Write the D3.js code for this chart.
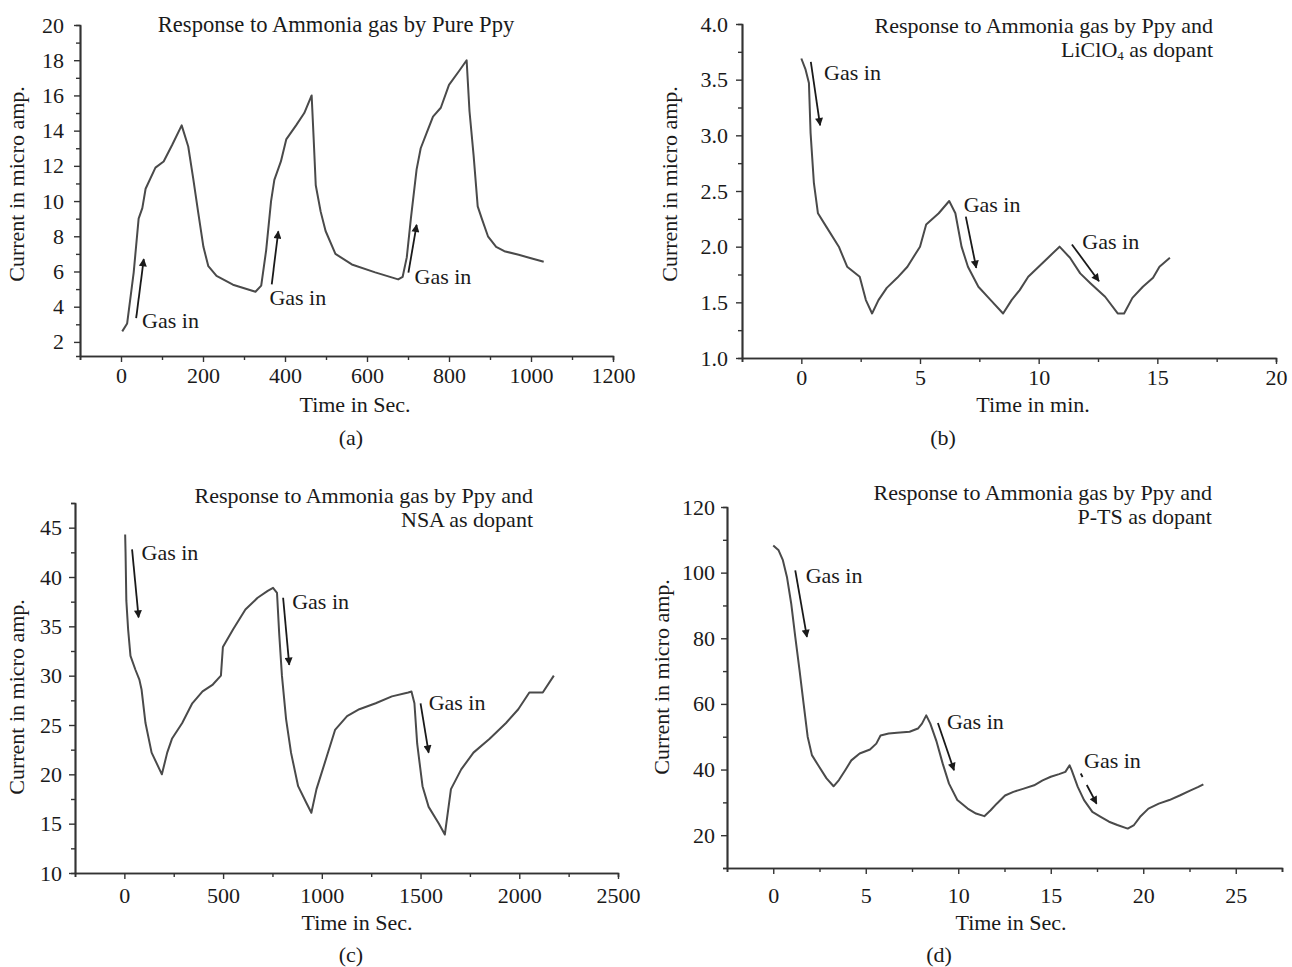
<!DOCTYPE html>
<html>
<head>
<meta charset="utf-8">
<script src="https://cdn.jsdelivr.net/npm/d3@7"></script>
<style>
  body { margin: 0; background: #fff; }
  svg text { font-family: "Liberation Serif", "Times New Roman", serif; fill: #1a1a1a; }
</style>
</head>
<body>
<svg id="chart" width="1292" height="967"></svg>
<script>
// (a) pure Ppy, time in s
const timeA = [3, 15, 31, 43, 52, 60, 84, 104, 125, 148, 164, 176, 188, 201, 213, 233, 273, 328, 342, 354, 366, 374, 390, 403, 427, 447, 465, 470, 475, 487, 499, 523, 563, 620, 676, 687, 697, 707, 721, 731, 746, 761, 780, 800, 825, 843, 850, 860, 870, 880, 895, 915, 935, 970, 1000, 1031];
const currentA = [2.6, 3.05, 5.95, 9.0, 9.6, 10.7, 11.9, 12.25, 13.2, 14.3, 13.1, 11.3, 9.4, 7.4, 6.3, 5.75, 5.25, 4.85, 5.2, 7.2, 10.0, 11.2, 12.25, 13.5, 14.3, 15.0, 16.0, 13.5, 10.9, 9.4, 8.3, 7.0, 6.4, 5.95, 5.55, 5.7, 6.8, 9.0, 11.8, 13.0, 13.9, 14.8, 15.3, 16.6, 17.4, 18.0, 15.1, 12.6, 9.7, 9.0, 8.0, 7.4, 7.15, 6.95, 6.75, 6.55];
// (b) LiClO4 dopant, time in min
const timeB = [0, 0.18, 0.32, 0.39, 0.53, 0.70, 1.05, 1.58, 1.93, 2.46, 2.72, 2.98, 3.25, 3.6, 4.04, 4.47, 5.0, 5.26, 5.79, 6.23, 6.49, 6.75, 7.02, 7.46, 7.98, 8.5, 8.86, 9.2, 9.56, 10.0, 10.44, 10.88, 11.32, 11.75, 12.19, 12.8, 13.33, 13.6, 13.95, 14.39, 14.82, 15.09, 15.53];
const currentB = [3.69, 3.59, 3.47, 3.02, 2.57, 2.30, 2.18, 2.0, 1.82, 1.73, 1.52, 1.40, 1.52, 1.63, 1.72, 1.82, 2.0, 2.2, 2.3, 2.41, 2.3, 2.0, 1.82, 1.64, 1.52, 1.40, 1.52, 1.61, 1.73, 1.82, 1.91, 2.0, 1.9, 1.76, 1.67, 1.55, 1.40, 1.40, 1.54, 1.64, 1.72, 1.82, 1.90];
// (c) NSA dopant, time in s
const timeC = [4, 6, 10, 19, 31, 56, 76, 87, 107, 138, 190, 217, 241, 293, 344, 396, 448, 489, 499, 551, 613, 675, 726, 753, 773, 784, 798, 819, 844, 880, 922, 947, 973, 1025, 1067, 1128, 1190, 1273, 1355, 1438, 1454, 1469, 1483, 1510, 1541, 1593, 1623, 1654, 1706, 1768, 1850, 1933, 1995, 2051, 2119, 2175];
const currentC = [44.3, 42.5, 37.6, 34.7, 32.0, 30.6, 29.6, 28.6, 25.2, 22.2, 20.0, 22.2, 23.6, 25.2, 27.2, 28.4, 29.1, 30.0, 32.9, 34.7, 36.7, 37.9, 38.6, 38.9, 38.4, 34.3, 30.0, 25.6, 22.2, 18.8, 17.1, 16.1, 18.5, 21.8, 24.5, 25.9, 26.6, 27.2, 27.9, 28.3, 28.4, 27.2, 23.1, 18.8, 16.7, 15.0, 13.9, 18.5, 20.5, 22.2, 23.6, 25.2, 26.6, 28.3, 28.3, 30.0];
// (d) P-TS dopant, time in s
const timeD = [0, 0.29, 0.52, 0.74, 0.97, 1.19, 1.42, 1.64, 1.86, 2.09, 2.43, 2.88, 3.26, 3.55, 3.89, 4.22, 4.67, 5.23, 5.57, 5.8, 6.24, 6.69, 7.37, 7.82, 8.04, 8.27, 8.49, 8.83, 9.16, 9.5, 9.95, 10.51, 10.96, 11.41, 11.75, 12.08, 12.53, 12.98, 13.54, 14.1, 14.56, 15.0, 15.45, 15.79, 16.02, 16.13, 16.46, 16.8, 17.25, 17.7, 18.15, 18.6, 19.16, 19.5, 19.83, 20.28, 20.84, 21.41, 21.97, 22.53, 22.98, 23.25];
const currentD = [108.3, 106.8, 103.8, 98.7, 90.6, 80.4, 70.3, 60.1, 50.0, 44.4, 41.3, 37.3, 34.9, 36.8, 39.8, 42.8, 44.9, 46.1, 47.9, 50.4, 51.0, 51.2, 51.5, 52.5, 54.0, 56.5, 54.0, 48.5, 41.8, 35.7, 30.7, 28.1, 26.6, 25.8, 27.6, 29.6, 32.1, 33.2, 34.2, 35.2, 36.7, 37.8, 38.6, 39.3, 41.3, 39.8, 34.7, 30.7, 27.1, 25.6, 24.1, 23.1, 22.0, 23.1, 25.6, 28.1, 29.6, 30.7, 32.1, 33.6, 34.7, 35.5];

// tick values
const xTicksA = [0, 200, 400, 600, 800, 1000, 1200];
const xMinorA = [-100, 100, 300, 500, 700, 900, 1100];
const yTicksA = [2, 4, 6, 8, 10, 12, 14, 16, 18, 20];
const yMinorA = [3, 5, 7, 9, 11, 13, 15, 17, 19];
const xTicksB = [0, 5, 10, 15, 20];
const xMinorB = [-2.5, 2.5, 7.5, 12.5, 17.5];
const yTicksB = [1.0, 1.5, 2.0, 2.5, 3.0, 3.5, 4.0];
const yMinorB = [1.25, 1.75, 2.25, 2.75, 3.25, 3.75];
const xTicksC = [0, 500, 1000, 1500, 2000, 2500];
const xMinorC = [-250, 250, 750, 1250, 1750, 2250];
const yTicksC = [10, 15, 20, 25, 30, 35, 40, 45];
const yMinorC = [12.5, 17.5, 22.5, 27.5, 32.5, 37.5, 42.5, 47.5];
const xTicksD = [0, 5, 10, 15, 20, 25];
const xMinorD = [-2.5, 2.5, 7.5, 12.5, 17.5, 22.5, 27.5];
const yTicksD = [20, 40, 60, 80, 100, 120];
const yMinorD = [10, 30, 50, 70, 90, 110];

// "Gas in" arrows [t0, v0, t1, v1] and label anchors [t, v]
const gasArrowsA = [[37, 3.35, 55.5, 6.7], [367.6, 5.27, 383.7, 8.28], [701, 5.93, 721, 8.65]];
const gasLabelsA = [[51.5, 2.8], [362, 4.12], [716, 5.27]];
const gasArrowsB = [[0.40, 3.66, 0.79, 3.09], [6.93, 2.27, 7.37, 1.81], [11.4, 2.02, 12.54, 1.69]];
const gasLabelsB = [[0.96, 3.50], [6.84, 2.31], [11.84, 1.98]];
const gasArrowsC = [[39, 42.8, 72, 35.9], [804, 37.9, 835, 31.1], [1500, 27.2, 1541, 22.2]];
const gasLabelsC = [[87, 41.7], [850, 36.8], [1541, 26.5]];
const gasArrowsD = [[1.19, 100.7, 1.82, 80.4], [8.9, 54.2, 9.77, 39.8], [16.62, 38.8, 17.48, 29.6]];
const gasLabelsD = [[1.75, 96.95], [9.39, 52.3], [16.8, 40.5]];

const svg = d3.select("#chart");
const FS = 22;

svg.append("defs").append("marker")
  .attr("id", "head")
  .attr("viewBox", "0 0 10 10")
  .attr("refX", 9).attr("refY", 5)
  .attr("markerUnits", "userSpaceOnUse")
  .attr("markerWidth", 10).attr("markerHeight", 8)
  .attr("orient", "auto")
  .append("path")
  .attr("d", "M0,0 L10,5 L0,10 Z")
  .attr("fill", "#1a1a1a");

function drawPanel(p) {
  const x = d3.scaleLinear().domain(p.xDomain).range([p.left, p.right]);
  const y = d3.scaleLinear().domain(p.yDomain).range([p.bottom, p.top]);
  const g = svg.append("g");

  // minor ticks first
  g.append("g").attr("transform", `translate(0,${p.bottom})`)
    .call(d3.axisBottom(x).tickValues(p.xMinor).tickSize(4).tickFormat(""));
  g.append("g").attr("transform", `translate(${p.left},0)`)
    .call(d3.axisLeft(y).tickValues(p.yMinor).tickSize(4).tickFormat(""));

  g.append("g").attr("transform", `translate(0,${p.bottom})`)
    .call(d3.axisBottom(x).tickValues(p.xTicks).tickSize(6).tickPadding(p.xPad).tickSizeOuter(0)
      .tickFormat(d3.format("d")));
  g.append("g").attr("transform", `translate(${p.left},0)`)
    .call(d3.axisLeft(y).tickValues(p.yTicks).tickSize(6).tickPadding(p.yPad).tickSizeOuter(0)
      .tickFormat(d3.format(p.yFmt)));

  g.selectAll(".domain").attr("stroke", "#333").attr("stroke-width", 1.7);
  g.selectAll(".tick line").attr("stroke", "#333").attr("stroke-width", 1.4);
  g.selectAll(".tick text").attr("font-size", FS).attr("fill", "#1a1a1a")
    .attr("font-family", "Liberation Serif, serif");

  // data line
  const pts = p.time.map((t, i) => [t, p.current[i]]);
  g.append("path")
    .datum(pts)
    .attr("fill", "none")
    .attr("stroke", "#4a4a4a")
    .attr("stroke-width", 2)
    .attr("stroke-linejoin", "round")
    .attr("d", d3.line().x(d => x(d[0])).y(d => y(d[1])));

  // gas in arrows and labels
  p.arrows.forEach((a, i) => {
    g.append("line")
      .attr("x1", x(a[0])).attr("y1", y(a[1]))
      .attr("x2", x(a[2])).attr("y2", y(a[3]))
      .attr("stroke", "#1a1a1a").attr("stroke-width", 1.8)
      .attr("stroke-dasharray", p.dashLast && i === 2 ? "4,9,200" : null)
      .attr("marker-end", "url(#head)");
  });
  p.labels.forEach(l => {
    g.append("text").attr("x", x(l[0])).attr("y", y(l[1]))
      .attr("font-size", FS).text("Gas in");
  });

  // title
  p.title.forEach((line, i) => {
    const t = g.append("text")
      .attr("x", p.titleX).attr("y", p.titleY + i * 24)
      .attr("text-anchor", p.titleAnchor)
      .attr("font-size", p.titleFS || FS);
    if (Array.isArray(line)) {
      line.forEach(s => {
        const ts = t.append("tspan").text(s.t);
        if (s.sub) ts.attr("font-size", 13).attr("dy", 3);
        if (s.after) ts.attr("dy", -3);
      });
    } else t.text(line);
  });

  // axis titles
  g.append("text")
    .attr("transform", `translate(${p.yLabX},${p.yLabY}) rotate(-90)`)
    .attr("text-anchor", "middle").attr("font-size", FS)
    .text("Current in micro amp.");
  g.append("text").attr("x", p.xLabX).attr("y", p.xLabY)
    .attr("text-anchor", "middle").attr("font-size", FS).text(p.xLabel);
  g.append("text").attr("x", p.tagX).attr("y", p.tagY)
    .attr("text-anchor", "middle").attr("font-size", FS).text(p.tag);
}

drawPanel({
  time: timeA, current: currentA,
  xDomain: [-100, 1200], yDomain: [1.2, 20],
  left: 80, right: 613, top: 25, bottom: 356,
  xTicks: xTicksA, xMinor: xMinorA, yTicks: yTicksA, yMinor: yMinorA, yFmt: "d", xPad: 5, yPad: 10,
  arrows: gasArrowsA, labels: gasLabelsA,
  title: ["Response to Ammonia gas by Pure Ppy"], titleX: 336, titleY: 32, titleAnchor: "middle", titleFS: 22.6,
  yLabX: 24, yLabY: 184, xLabel: "Time in Sec.", xLabX: 355, xLabY: 412, tag: "(a)", tagX: 351, tagY: 445
});

drawPanel({
  time: timeB, current: currentB,
  xDomain: [-2.5, 20], yDomain: [1.0, 4.0],
  left: 742, right: 1276, top: 24, bottom: 358,
  xTicks: xTicksB, xMinor: xMinorB, yTicks: yTicksB, yMinor: yMinorB, yFmt: ".1f", xPad: 5, yPad: 8,
  arrows: gasArrowsB, labels: gasLabelsB,
  title: ["Response to Ammonia gas by Ppy and",
    [{ t: "LiClO" }, { t: "4", sub: true }, { t: " as dopant", after: true }]],
  titleX: 1213, titleY: 33, titleAnchor: "end",
  yLabX: 677, yLabY: 184, xLabel: "Time in min.", xLabX: 1033, xLabY: 412, tag: "(b)", tagX: 943, tagY: 445
});

drawPanel({
  time: timeC, current: currentC,
  xDomain: [-250, 2500], yDomain: [10, 47.5],
  left: 75, right: 618, top: 503, bottom: 873,
  xTicks: xTicksC, xMinor: xMinorC, yTicks: yTicksC, yMinor: yMinorC, yFmt: "d", xPad: 8, yPad: 7,
  arrows: gasArrowsC, labels: gasLabelsC,
  title: ["Response to Ammonia gas by Ppy and", "NSA as dopant"],
  titleX: 533, titleY: 503, titleAnchor: "end",
  yLabX: 24, yLabY: 697, xLabel: "Time in Sec.", xLabX: 357, xLabY: 930, tag: "(c)", tagX: 351, tagY: 962
});

drawPanel({
  time: timeD, current: currentD,
  xDomain: [-2.5, 27.5], yDomain: [10, 120],
  left: 727, right: 1282, top: 507, bottom: 868,
  xTicks: xTicksD, xMinor: xMinorD, yTicks: yTicksD, yMinor: yMinorD, yFmt: "d", xPad: 13, yPad: 6,
  arrows: gasArrowsD, labels: gasLabelsD, dashLast: true,
  title: ["Response to Ammonia gas by Ppy and", "P-TS as dopant"],
  titleX: 1212, titleY: 500, titleAnchor: "end",
  yLabX: 669, yLabY: 677, xLabel: "Time in Sec.", xLabX: 1011, xLabY: 930, tag: "(d)", tagX: 939, tagY: 962
});
</script>
</body>
</html>
